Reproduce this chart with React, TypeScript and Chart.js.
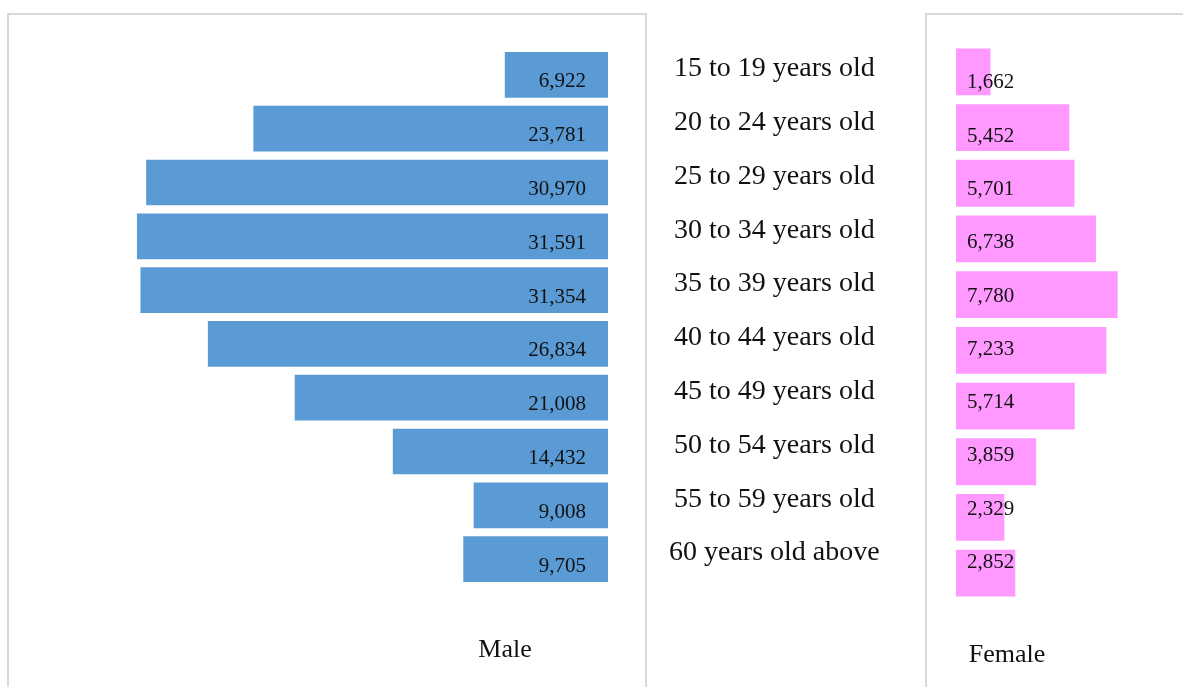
import React, { useEffect, useRef } from "react";
import { Chart, registerables } from "chart.js";

Chart.register(...registerables);

const ageGroups = [
  "15 to 19 years old",
  "20 to 24 years old",
  "25 to 29 years old",
  "30 to 34 years old",
  "35 to 39 years old",
  "40 to 44 years old",
  "45 to 49 years old",
  "50 to 54 years old",
  "55 to 59 years old",
  "60 years old above",
];
const maleValues = [6922, 23781, 30970, 31591, 31354, 26834, 21008, 14432, 9008, 9705];
const femaleValues = [1662, 5452, 5701, 6738, 7780, 7233, 5714, 3859, 2329, 2852];

const SERIF = "'Liberation Serif', 'Times New Roman', serif";
const fmt = (v: number) => v.toLocaleString("en-US");

const maleLabelPlugin = {
  id: "maleLabels",
  afterDatasetsDraw(chart: any) {
    const ctx = chart.ctx;
    const meta = chart.getDatasetMeta(0);
    ctx.save();
    ctx.font = `21px ${SERIF}`;
    ctx.fillStyle = "#111";
    ctx.textAlign = "right";
    ctx.textBaseline = "middle";
    meta.data.forEach((bar: any, i: number) => {
      const p = bar.getProps(["x", "y", "base"], true);
      const right = Math.max(p.x, p.base);
      ctx.fillText(fmt(chart.data.datasets[0].data[i]), right - 22, p.y + 7);
    });
    ctx.restore();
  },
};

const femaleLabelPlugin = {
  id: "femaleLabels",
  afterDatasetsDraw(chart: any) {
    const ctx = chart.ctx;
    const meta = chart.getDatasetMeta(0);
    ctx.save();
    ctx.font = `21px ${SERIF}`;
    ctx.fillStyle = "#111";
    ctx.textAlign = "left";
    ctx.textBaseline = "middle";
    meta.data.forEach((bar: any, i: number) => {
      const p = bar.getProps(["x", "y", "base"], true);
      const left = Math.min(p.x, p.base);
      ctx.fillText(fmt(chart.data.datasets[0].data[i]), left + 11, p.y + 11 - 2.4 * i);
    });
    ctx.restore();
  },
};

function MaleChart() {
  const ref = useRef<HTMLCanvasElement>(null);
  useEffect(() => {
    const chart = new Chart(ref.current!, {
      type: "bar",
      data: {
        labels: ageGroups,
        datasets: [
          {
            label: "Male",
            data: maleValues,
            backgroundColor: "#5B9BD5",
            barPercentage: 0.85,
            categoryPercentage: 1,
          },
        ],
      },
      options: {
        indexAxis: "y",
        animation: false,
        responsive: false,
        layout: { padding: { left: 93, top: 48, bottom: 101, right: 0 } },
        plugins: { legend: { display: false }, tooltip: { enabled: false } },
        scales: {
          x: { display: false, reverse: true, min: 0, max: 34000 },
          y: {
            position: "right",
            grid: { display: false },
            border: { display: false },
            afterFit: (s: any) => {
              s.width = 300;
              s.paddingTop = 0;
              s.paddingBottom = 0;
            },
            ticks: {
              crossAlign: "center",
              padding: 53,
              labelOffset: -6,
              color: "#111",
              font: { family: SERIF, size: 28 },
            },
          },
        },
      },
      plugins: [maleLabelPlugin],
    } as any);
    return () => chart.destroy();
  }, []);
  return (
    <canvas
      ref={ref}
      width={900}
      height={687}
      style={{ position: "absolute", left: 8, top: 0, width: 900, height: 687 }}
    />
  );
}

function FemaleChart() {
  const ref = useRef<HTMLCanvasElement>(null);
  useEffect(() => {
    const chart = new Chart(ref.current!, {
      type: "bar",
      data: {
        labels: ageGroups,
        datasets: [
          {
            label: "Female",
            data: femaleValues,
            backgroundColor: "#FF99FF",
            barPercentage: 0.84,
            categoryPercentage: 1,
          },
        ],
      },
      options: {
        indexAxis: "y",
        animation: false,
        responsive: false,
        layout: { padding: { left: 29, top: 44, bottom: 86, right: 40 } },
        plugins: { legend: { display: false }, tooltip: { enabled: false } },
        scales: {
          x: { display: false, min: 0, max: 9000 },
          y: { display: false },
        },
      },
      plugins: [femaleLabelPlugin],
    } as any);
    return () => chart.destroy();
  }, []);
  return (
    <canvas
      ref={ref}
      width={256}
      height={687}
      style={{ position: "absolute", left: 927, top: 0, width: 256, height: 687 }}
    />
  );
}

export default function App() {
  return (
    <div
      style={{
        position: "fixed",
        left: 0,
        top: 0,
        width: 1183,
        height: 687,
        overflow: "hidden",
        background: "#fff",
        fontFamily: SERIF,
      }}
    >
      <div
        style={{
          position: "absolute",
          left: 7,
          top: 13,
          width: 636,
          height: 700,
          border: "2px solid #d9d9d9",
          boxSizing: "content-box",
        }}
      />
      <div
        style={{
          position: "absolute",
          left: 925,
          top: 13,
          width: 300,
          height: 700,
          border: "2px solid #d9d9d9",
        }}
      />
      <MaleChart />
      <FemaleChart />
      <div
        style={{
          position: "absolute",
          left: 455,
          width: 100,
          top: 634,
          textAlign: "center",
          fontSize: 26,
          color: "#111",
        }}
      >
        Male
      </div>
      <div
        style={{
          position: "absolute",
          left: 947,
          width: 120,
          top: 639,
          textAlign: "center",
          fontSize: 26,
          color: "#111",
        }}
      >
        Female
      </div>
    </div>
  );
}
